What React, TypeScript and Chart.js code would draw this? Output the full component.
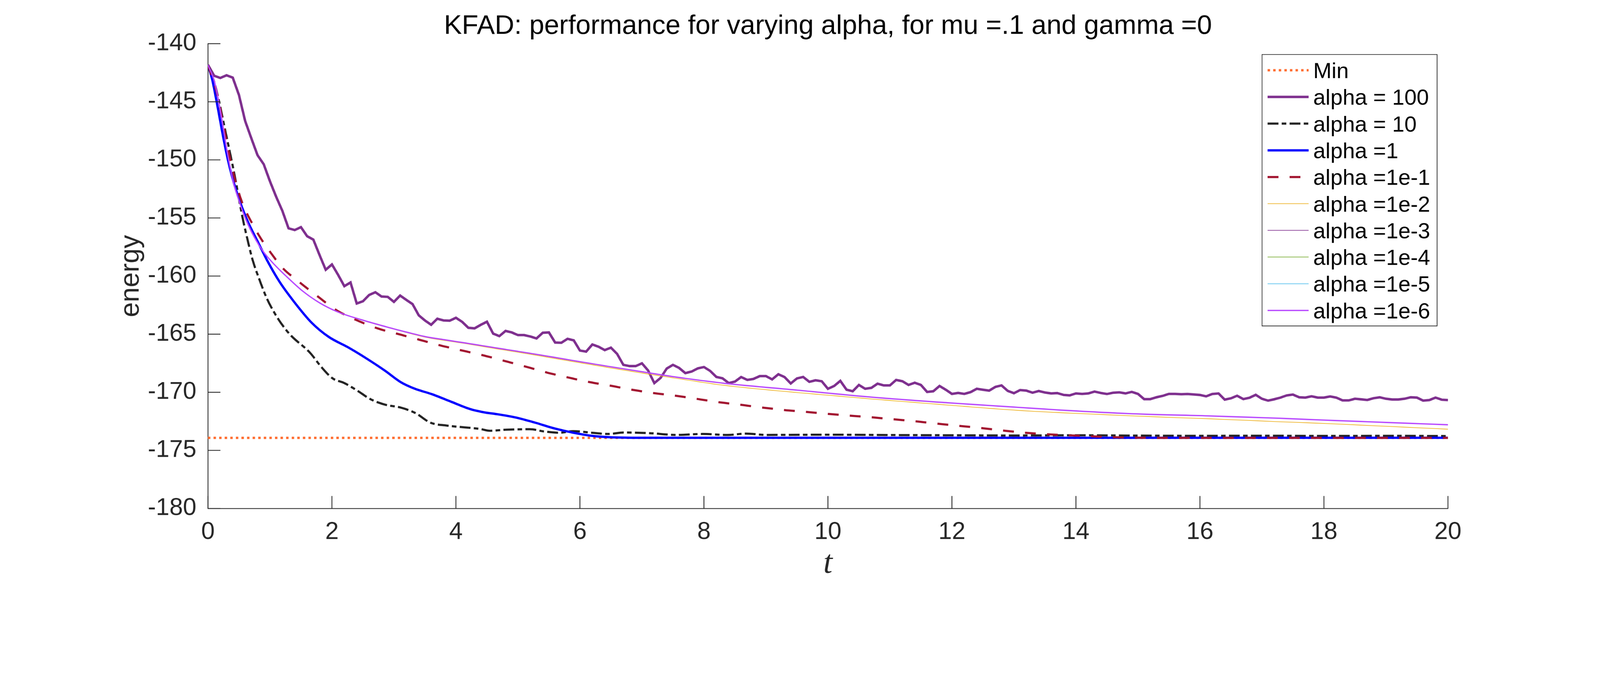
import { useEffect, useRef } from 'react'
import { Chart, registerables } from 'chart.js'

Chart.register(...registerables)

const W = 4871
const H = 1783

const TITLE = 'KFAD: performance for varying alpha, for mu =.1 and gamma =0'
const X_LABEL = 't'
const Y_LABEL = 'energy'
const X_TICKS = [0, 2, 4, 6, 8, 10, 12, 14, 16, 18, 20]
const Y_TICKS = [-180, -175, -170, -165, -160, -155, -150, -145, -140]

const LABELS = [
  'Min',
  'alpha = 100',
  'alpha = 10',
  'alpha =1',
  'alpha =1e-1',
  'alpha =1e-2',
  'alpha =1e-3',
  'alpha =1e-4',
  'alpha =1e-5',
  'alpha =1e-6',
]

const MIN_ENERGY = -173.93
const T_MIN = [0, 20]

// alpha = 100, one value every 0.1 in t
const T_STEP = 0.1
const E_100 = [
  -141.82, -142.76, -142.95, -142.72, -142.92, -144.41, -146.65, -148.14, -149.6, -150.38,
  -151.84, -153.17, -154.38, -155.89, -156.04, -155.79, -156.57, -156.86, -158.19, -159.46,
  -159.0, -159.9, -160.87, -160.55, -162.36, -162.17, -161.63, -161.39, -161.76, -161.79,
  -162.22, -161.68, -162.05, -162.41, -163.38, -163.82, -164.19, -163.67, -163.82, -163.84,
  -163.59, -163.94, -164.45, -164.5, -164.2, -163.93, -164.95, -165.17, -164.72, -164.85,
  -165.08, -165.08, -165.2, -165.37, -164.88, -164.85, -165.72, -165.74, -165.4, -165.53,
  -166.41, -166.5, -165.89, -166.08, -166.37, -166.16, -166.7, -167.64, -167.75, -167.75,
  -167.51, -168.13, -169.21, -168.77, -167.96, -167.64, -167.91, -168.35, -168.22, -167.95,
  -167.83, -168.16, -168.68, -168.8, -169.21, -169.08, -168.69, -168.94, -168.85, -168.61,
  -168.61, -168.89, -168.45, -168.69, -169.24, -168.81, -168.68, -169.1, -168.97, -169.05,
  -169.7, -169.46, -169.02, -169.78, -169.91, -169.37, -169.7, -169.62, -169.26, -169.41,
  -169.41, -168.94, -169.05, -169.37, -169.18, -169.37, -169.97, -169.91, -169.46, -169.78,
  -170.14, -170.06, -170.14, -169.99, -169.7, -169.78, -169.86, -169.54, -169.41, -169.88,
  -170.08, -169.81, -169.86, -170.04, -169.89, -170.02, -170.1, -170.07, -170.23, -170.27,
  -170.1, -170.14, -170.1, -169.94, -170.06, -170.15, -170.04, -170.01, -170.1, -169.97,
  -170.14, -170.59, -170.59, -170.43, -170.31, -170.14, -170.14, -170.17, -170.15, -170.19,
  -170.23, -170.35, -170.15, -170.1, -170.63, -170.52, -170.3, -170.59, -170.47, -170.22,
  -170.56, -170.72, -170.6, -170.46, -170.27, -170.2, -170.43, -170.46, -170.35, -170.46,
  -170.46, -170.36, -170.46, -170.7, -170.7, -170.56, -170.61, -170.66, -170.51, -170.43,
  -170.56, -170.62, -170.62, -170.56, -170.43, -170.46, -170.72, -170.67, -170.46, -170.64,
  -170.67,
]
const T_100 = E_100.map((_, i) => +(i * T_STEP).toFixed(1))

// alpha = 10
const T_10 = [
  0, 0.1, 0.19, 0.28, 0.37, 0.45, 0.51, 0.57, 0.64, 0.72, 0.83, 0.95, 1.12, 1.31, 1.65, 1.83,
  2.01, 2.2, 2.41, 2.62, 2.86, 3.11, 3.35, 3.59, 3.84, 4.14, 4.38, 4.55, 4.82, 5.19, 5.43,
  5.67, 5.89, 6.19, 6.46, 6.71, 7.1, 7.56, 7.98, 8.38, 8.68, 9, 10, 11, 12, 13, 14, 15, 16,
  17, 18, 19, 20,
]
const E_10 = [
  -141.82, -143.28, -145.22, -147.49, -149.76, -151.87, -153.65, -155.27, -156.9, -158.6,
  -160.3, -161.92, -163.58, -164.95, -166.62, -167.83, -168.8, -169.21, -169.86, -170.59,
  -171.07, -171.32, -171.8, -172.62, -172.86, -173.02, -173.15, -173.31, -173.22, -173.18,
  -173.38, -173.48, -173.35, -173.48, -173.59, -173.46, -173.51, -173.67, -173.59, -173.67,
  -173.56, -173.67, -173.65, -173.68, -173.7, -173.72, -173.7, -173.73, -173.75, -173.74,
  -173.76, -173.75, -173.77,
]

// alpha = 1
const T_1 = [
  0, 0.07, 0.16, 0.25, 0.34, 0.43, 0.52, 0.64, 0.8, 0.96, 1.15, 1.38, 1.67, 1.95, 2.26, 2.56,
  2.86, 3.11, 3.32, 3.62, 3.93, 4.23, 4.48, 4.67, 4.97, 5.28, 5.58, 5.89, 6.19, 6.49, 7, 10,
  15, 20,
]
const E_1 = [
  -141.82, -143.11, -145.55, -148.14, -150.41, -152.19, -153.65, -155.27, -157.0, -158.7,
  -160.45, -162.15, -164.0, -165.24, -166.13, -167.1, -168.16, -169.13, -169.66, -170.18,
  -170.83, -171.45, -171.75, -171.89, -172.18, -172.62, -173.1, -173.48, -173.75, -173.87,
  -173.92, -173.92, -173.92, -173.92,
]

// alpha = 1e-1
const T_E1 = [
  0, 0.13, 0.25, 0.34, 0.43, 0.55, 0.71, 0.86, 1.04, 1.2, 1.47, 1.77, 2.07, 2.41, 2.74, 3.08,
  3.41, 3.75, 4.07, 4.46, 4.79, 5.13, 5.48, 5.82, 6.16, 6.51, 6.84, 7.19, 7.56, 7.91, 8.26,
  8.61, 8.95, 9.3, 9.65, 10, 10.37, 10.72, 11.07, 11.41, 11.76, 12.11, 12.46, 12.82, 13.17,
  13.52, 13.87, 14.22, 14.57, 15, 16, 20,
]
const E_E1 = [
  -141.82, -143.92, -147.0, -149.44, -151.55, -153.65, -155.44, -156.82, -158.19, -159.28,
  -160.5, -161.75, -162.93, -163.82, -164.51, -165.0, -165.48, -165.97, -166.37, -166.85,
  -167.31, -167.8, -168.32, -168.74, -169.13, -169.45, -169.78, -170.07, -170.31, -170.59,
  -170.87, -171.09, -171.32, -171.53, -171.69, -171.86, -172.02, -172.16, -172.33, -172.5,
  -172.7, -172.89, -173.07, -173.29, -173.48, -173.61, -173.7, -173.78, -173.86, -173.91,
  -173.93, -173.93,
]

// alpha = 1e-2 .. 1e-6 share the start; 1e-2 drifts a little lower later on
const T_SMALL = [
  0, 0.11, 0.22, 0.31, 0.4, 0.49, 0.61, 0.74, 0.89, 1.07, 1.28, 1.53, 1.8, 2.1, 2.47, 2.92,
  3.23, 3.53, 3.84, 4.14, 4.67, 5.28, 5.89, 6.49, 7.1, 7.71, 8.32, 9.51, 10.73, 11.95, 13.07,
  13.75, 14.97, 16.18, 17.3, 18.07, 20,
]
const E_E6 = [
  -141.82, -143.36, -146.36, -149.28, -151.71, -153.33, -155.11, -156.57, -157.87, -159.0,
  -160.1, -161.3, -162.3, -163.1, -163.75, -164.43, -164.86, -165.24, -165.5, -165.75,
  -166.2, -166.72, -167.27, -167.8, -168.32, -168.81, -169.22, -169.82, -170.43, -170.91,
  -171.3, -171.53, -171.86, -172.04, -172.24, -172.41, -172.8,
]
const E_E2 = [
  -141.82, -143.36, -146.36, -149.28, -151.71, -153.33, -155.11, -156.57, -157.87, -159.0,
  -160.1, -161.3, -162.3, -163.1, -163.77, -164.46, -164.9, -165.29, -165.56, -165.8,
  -166.27, -166.8, -167.36, -167.9, -168.43, -168.93, -169.4, -170.03, -170.59, -171.11,
  -171.56, -171.76, -172.05, -172.29, -172.54, -172.7, -173.18,
]

const AXIS = '#262626'
const FONT = '"Liberation Sans", Arial, Helvetica, sans-serif'

type Style = { color: string; width: number; dash: number[]; tension: boolean }

const STYLES: Style[] = [
  { color: '#FF6B2D', width: 7, dash: [7.5, 9.5], tension: false },
  { color: '#7E2F8E', width: 7.5, dash: [], tension: false },
  { color: '#222222', width: 6.5, dash: [33, 10, 14, 10], tension: true },
  { color: '#0000FF', width: 7, dash: [], tension: true },
  { color: '#A2142F', width: 6.5, dash: [33, 34], tension: true },
  { color: '#EDB120', width: 2, dash: [], tension: true },
  { color: '#7E2F8E', width: 2, dash: [], tension: true },
  { color: '#77AC30', width: 2, dash: [], tension: true },
  { color: '#4DBEEE', width: 2, dash: [], tension: true },
  { color: '#B746FF', width: 4, dash: [], tension: true },
]

const pts = (t: number[], e: number[]) => t.map((x, i) => ({ x, y: e[i] }))

const decor = {
  id: 'decor',
  afterDraw(chart: Chart) {
    const { ctx, chartArea: a, scales } = chart
    ctx.save()
    const seg = (x1: number, y1: number, x2: number, y2: number) => {
      ctx.beginPath()
      ctx.moveTo(x1, y1)
      ctx.lineTo(x2, y2)
      ctx.stroke()
    }

    // inward tick marks, MATLAB style
    ctx.strokeStyle = AXIS
    ctx.lineWidth = 2.5
    ctx.setLineDash([])
    for (const v of X_TICKS) {
      const x = scales.x.getPixelForValue(v)
      seg(x, a.bottom, x, a.bottom - 38)
    }
    for (const v of Y_TICKS) {
      const y = scales.y.getPixelForValue(v)
      seg(a.left, y, a.left + 38, y)
    }

    // title
    ctx.fillStyle = '#000'
    ctx.font = `82px ${FONT}`
    ctx.textAlign = 'center'
    ctx.textBaseline = 'alphabetic'
    ctx.fillText(TITLE, (a.left + a.right) / 2, a.top - 30)

    // axis labels
    ctx.fillStyle = AXIS
    ctx.font = `italic 100px "Liberation Serif", "DejaVu Serif", serif`
    ctx.fillText(X_LABEL, (a.left + a.right) / 2, a.bottom + 196)
    ctx.save()
    ctx.translate(a.left - 211, (a.top + a.bottom) / 2)
    ctx.rotate(-Math.PI / 2)
    ctx.font = `82px ${FONT}`
    ctx.fillText(Y_LABEL, 0, 0)
    ctx.restore()

    // legend box in the north-east corner
    const bw = 533
    const bh = 827
    const bx = a.right - 33 - bw
    const by = a.top + 33
    ctx.fillStyle = '#fff'
    ctx.fillRect(bx, by, bw, bh)
    ctx.strokeStyle = AXIS
    ctx.lineWidth = 2
    ctx.strokeRect(bx, by, bw, bh)
    ctx.font = `67px ${FONT}`
    ctx.textAlign = 'left'
    LABELS.forEach((label, i) => {
      const s = STYLES[i]
      const y = by + 48 + i * 81.3
      ctx.strokeStyle = s.color
      ctx.lineWidth = s.width
      ctx.setLineDash(s.dash)
      ctx.lineCap = 'butt'
      seg(bx + 17, y, bx + 142, y)
      ctx.fillStyle = '#000'
      ctx.fillText(label, bx + 156, y + 24)
    })
    ctx.restore()
  },
}

export default function App() {
  const ref = useRef<HTMLCanvasElement>(null)
  // the page may be smaller than W x H in CSS pixels; draw at W x H and scale the box to fit
  const k = Math.min(window.innerWidth / W, window.innerHeight / H)

  useEffect(() => {
    document.body.style.margin = '0'
    document.documentElement.style.overflow = 'hidden'
    document.body.style.overflow = 'hidden'
    if (!ref.current) return
    const series = [
      pts(T_MIN, [MIN_ENERGY, MIN_ENERGY]),
      pts(T_100, E_100),
      pts(T_10, E_10),
      pts(T_1, E_1),
      pts(T_E1, E_E1),
      pts(T_SMALL, E_E2),
      pts(T_SMALL, E_E6),
      pts(T_SMALL, E_E6),
      pts(T_SMALL, E_E6),
      pts(T_SMALL, E_E6),
    ]
    const chart = new Chart(ref.current, {
      type: 'line',
      data: {
        datasets: series.map((data, i) => ({
          label: LABELS[i],
          data,
          borderColor: STYLES[i].color,
          borderWidth: STYLES[i].width,
          borderDash: STYLES[i].dash,
          cubicInterpolationMode: STYLES[i].tension ? 'monotone' : 'default',
          tension: 0,
          pointRadius: 0,
          fill: false,
          order: LABELS.length - i,
        })),
      },
      options: {
        responsive: false,
        animation: false,
        devicePixelRatio: 1,
        events: [],
        layout: { padding: { top: 133, right: 463, bottom: 0, left: 0 } },
        plugins: { legend: { display: false }, title: { display: false }, tooltip: { enabled: false } },
        scales: {
          x: {
            type: 'linear',
            min: 0,
            max: 20,
            afterFit: (s) => {
              s.height = 234
            },
            afterBuildTicks: (s) => {
              s.ticks = X_TICKS.map((value) => ({ value }))
            },
            grid: { display: false, drawTicks: false },
            border: { display: true, color: AXIS, width: 2.5 },
            ticks: {
              autoSkip: false,
              maxRotation: 0,
              padding: 28,
              color: AXIS,
              font: { family: FONT, size: 74 },
            },
          },
          y: {
            type: 'linear',
            min: -180,
            max: -140,
            afterFit: (s) => {
              s.width = 633
            },
            afterBuildTicks: (s) => {
              s.ticks = Y_TICKS.map((value) => ({ value }))
            },
            grid: { display: false, drawTicks: false },
            border: { display: true, color: AXIS, width: 2.5 },
            ticks: {
              padding: 35,
              color: AXIS,
              font: { family: FONT, size: 74 },
              callback: (v) => String(v),
            },
          },
        },
      },
      plugins: [decor],
    })
    return () => chart.destroy()
  }, [])

  return (
    <div
      style={{
        position: 'absolute',
        left: 0,
        top: 0,
        width: Math.floor(W * k),
        height: Math.floor(H * k),
        overflow: 'hidden',
        background: '#fff',
      }}
    >
      <div style={{ width: W, height: H, transform: `scale(${k})`, transformOrigin: '0 0' }}>
        <canvas ref={ref} width={W} height={H} role="img" aria-label={TITLE} />
      </div>
    </div>
  )
}
